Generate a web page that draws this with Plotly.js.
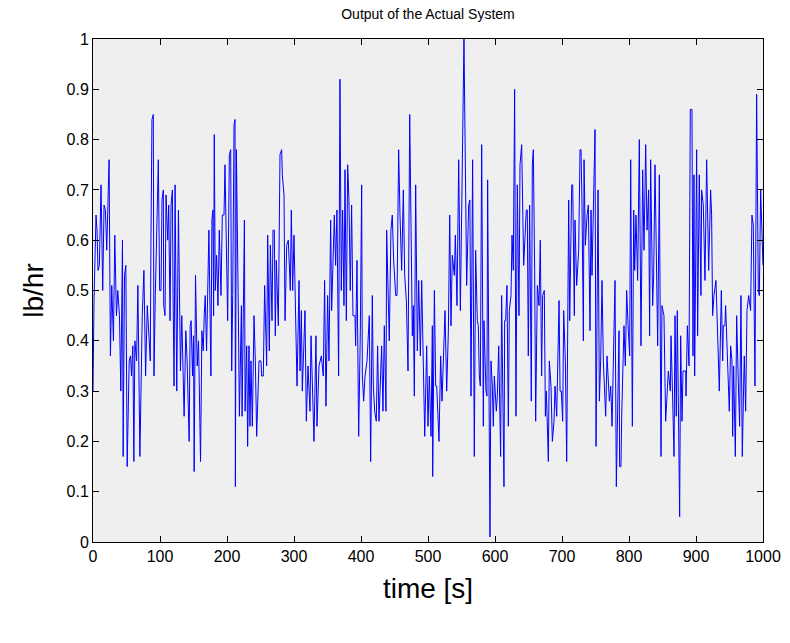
<!DOCTYPE html>
<html>
<head>
<meta charset="utf-8">
<script src="https://cdn.plot.ly/plotly-3.0.1.min.js"></script>
<style>html,body{margin:0;padding:0;background:#fff;}#chart{width:790px;height:643px;}</style>
</head>
<body>
<div id="chart"></div>
<script>
// [time (s), output (lb/hr)], in segments
const seg1 = [[0,0.30],[1.5,0.48],[4.5,0.65],[6,0.62],[7.5,0.54],[9.5,0.55],[12,0.71],[14.5,0.50],[16.5,0.67],[18.5,0.66],[20.5,0.58],[24,0.76],[26,0.37],[28,0.51],[30.5,0.40],[32.5,0.61],[35,0.45],[37,0.50],[39.5,0.45],[41.5,0.30],[44,0.60],[45,0.17],[47,0.53],[49,0.55],[51,0.15],[54,0.36],[56,0.37],[57.5,0.33],[59.5,0.39],[61,0.16],[62.5,0.40],[65,0.36],[67,0.51],[70,0.17],[71.5,0.29],[73.5,0.45],[76,0.54],[78.5,0.33],[81,0.47],[84,0.39],[85.5,0.36],[86.5,0.60],[88,0.84],[90,0.85],[91,0.33],[93,0.49],[97.5,0.76],[99.5,0.50],[101.5,0.50],[103,0.68],[105,0.70],[105.5,0.47],[107.5,0.45],[109,0.69],[111.5,0.60],[113,0.67],[115,0.44]];
const seg2 = [[116.5,0.67],[118.5,0.70],[119.5,0.49],[121,0.31],[122.5,0.71],[125,0.30],[127.5,0.66],[128.5,0.54],[130.5,0.34],[132.5,0.45],[136,0.25],[138.5,0.42],[140.5,0.36],[143.5,0.20],[145,0.43],[146.5,0.44],[148.5,0.33],[150,0.41],[151,0.14],[153,0.53],[155.5,0.35],[157.5,0.40],[160.5,0.16],[162.5,0.42],[164.5,0.38],[166,0.45],[167.5,0.49],[169.5,0.38],[173,0.62],[176,0.33],[177.5,0.64],[179,0.66],[180,0.45],[181,0.81],[182.5,0.50],[184.5,0.57],[186.5,0.47],[188.5,0.62],[191,0.49],[193,0.65],[195.5,0.65],[197,0.75],[201,0.44],[203.5,0.77],[205.5,0.78],[207,0.34],[208.5,0.49],[210.5,0.83],[212,0.84],[212.5,0.11],[214,0.78],[217,0.45],[218.5,0.25],[221.5,0.47],[222.5,0.25],[226,0.64]];
const seg3 = [[227,0.26],[229.4,0.39],[230.8,0.19],[232.8,0.39],[234.3,0.23],[235.8,0.36],[237.8,0.23],[240.3,0.45],[242.3,0.36],[244.3,0.21],[247.8,0.36],[250.7,0.36],[251.7,0.33],[254.2,0.33],[256.2,0.51],[259.2,0.35],[260.7,0.61],[263.2,0.38],[264.7,0.59],[267.2,0.44],[268.7,0.62],[270.6,0.62],[272.1,0.41],[273.6,0.56],[276.6,0.43],[279.1,0.77],[281.6,0.78],[282.6,0.73],[285.1,0.69],[286.6,0.44],[289.1,0.59],[291.5,0.60],[294.5,0.50],[296,0.66],[298,0.50],[300,0.61],[304.5,0.31],[307.5,0.52],[309,0.34],[311,0.46],[312.4,0.30],[316.4,0.46],[318.4,0.24],[320.9,0.35],[323.9,0.26],[325.4,0.41],[326.9,0.33],[329.8,0.20],[332.8,0.41],[334.3,0.23],[337.3,0.35]];
const seg4 = [[340.8,0.37],[343.7,0.33],[345.7,0.52],[347.7,0.27],[350.2,0.49],[352.2,0.36],[354.7,0.64],[356.2,0.46],[358.2,0.56],[360.2,0.65],[362.1,0.55],[364.1,0.66],[366.6,0.33],[368.6,0.92],[370.6,0.50],[372.6,0.66],[374.6,0.47],[376.1,0.74],[378.1,0.44],[380.1,0.75],[382,0.68],[384,0.50],[386,0.67],[388,0.45],[391,0.45],[392,0.39],[394,0.56],[396.5,0.21],[399,0.42],[401,0.71],[402,0.33],[404,0.28],[406,0.33],[409,0.36],[412.4,0.45],[414.4,0.16],[416.9,0.49],[418.4,0.31],[420.4,0.26],[422.8,0.24],[424.8,0.39],[426.8,0.24],[430.8,0.39],[432.8,0.26],[434.8,0.43],[437.3,0.26],[438.3,0.62],[442.2,0.40],[444.7,0.62],[446.7,0.65],[448.7,0.56]];
const seg5 = [[451.8,0.49],[453.8,0.49],[456.2,0.78],[458.2,0.65],[460.7,0.54],[463.2,0.70],[465.2,0.53],[467.7,0.48],[470.2,0.34],[472.7,0.85],[474.6,0.61],[476.6,0.41],[478.1,0.47],[479.6,0.29],[481.6,0.71],[484.1,0.38],[486.1,0.52],[488.6,0.37],[490.6,0.52],[495.1,0.21],[498,0.39],[500,0.23],[502,0.33],[504.5,0.21],[506.5,0.43],[507,0.13],[509.5,0.50],[511.5,0.31],[513,0.31],[516.4,0.20],[518.9,0.37],[520.9,0.28],[525.4,0.46],[527.9,0.30],[530.4,0.42],[532.4,0.65],[534.3,0.43],[536.3,0.57],[539.3,0.53],[540.8,0.61],[543.3,0.47],[545.8,0.76],[548.3,0.46],[550.8,0.75],[553.7,1.00],[557.7,0.51],[560.7,0.67]];
const seg6 = [[562.5,0.68],[564.2,0.29],[566.6,0.76],[569.1,0.17],[571.1,0.58],[573.6,0.44],[575.1,0.43],[576.6,0.33],[578.1,0.31],[580.1,0.79],[582.6,0.23],[583.6,0.44],[586.5,0.30],[588,0.29],[589,0.72],[592.5,0.01],[594,0.36],[596,0.31],[597.5,0.23],[599,0.33],[602,0.26],[603.5,0.29],[605.5,0.39],[608.4,0.17],[609.9,0.49],[613.4,0.11],[614.4,0.44],[615.9,0.44],[617.9,0.51],[619.9,0.23],[621.4,0.46],[623.9,0.49],[625.4,0.61],[627.3,0.54],[629.3,0.90],[631.3,0.25],[633.3,0.71],[635.8,0.45],[637.3,0.75],[639.8,0.79],[642.8,0.55],[644.8,0.61],[646.7,0.66],[648.2,0.66],[649.7,0.37],[651.7,0.67],[654.2,0.28],[655.7,0.75],[657.2,0.78],[659.2,0.54],[660.7,0.24],[663.2,0.51],[665.7,0.47],[667.6,0.60],[669.6,0.33],[671.1,0.49],[673.6,0.50]];
const seg7 = [[675.2,0.25],[676.7,0.30],[679.6,0.16],[681.1,0.36],[683.6,0.31],[685.6,0.20],[688.1,0.24],[689.6,0.31],[692.1,0.25],[695.6,0.48],[697.1,0.30],[699,0.30],[701,0.24],[702.5,0.46],[705,0.36],[707,0.16],[710,0.68],[711.5,0.44],[714.5,0.71],[716,0.71],[718.4,0.45],[719.4,0.64],[721.9,0.51],[724.9,0.58],[726.9,0.78],[728.4,0.78],[729.9,0.67],[731.9,0.40],[732.9,0.76],[734.9,0.59],[737.4,0.65],[739.3,0.67],[741.8,0.42],[743.3,0.66],[744.8,0.53],[747.3,0.74],[749.3,0.82],[750.8,0.19],[753.8,0.70],[755.8,0.28],[757.7,0.36],[759.7,0.52],[761.7,0.36],[765.2,0.25],[767.2,0.37],[770.7,0.28],[772.7,0.31],[774.7,0.23],[779.1,0.52],[781.1,0.11],[785.1,0.42]];
const seg8 = [[786,0.15],[788,0.15],[789.1,0.25],[791,0.36],[792.5,0.43],[794.5,0.35],[796.5,0.50],[799,0.42],[801,0.37],[802.5,0.76],[805,0.23],[807,0.66],[808.5,0.54],[810.4,0.65],[812.9,0.52],[815.4,0.80],[817.9,0.39],[820.4,0.74],[822.4,0.58],[824.9,0.79],[826.9,0.62],[829.3,0.70],[830.8,0.41],[832.3,0.76],[835.3,0.47],[836.8,0.53],[838.8,0.75],[842.8,0.39],[845.3,0.73],[847.8,0.17],[849.2,0.47],[852.2,0.45],[853.2,0.35],[854.7,0.24],[856.7,0.29],[858.7,0.34],[861.7,0.30],[862.7,0.41],[864.7,0.31],[867.2,0.17],[868.7,0.45],[870.6,0.25],[872.1,0.46],[875.6,0.05],[877.1,0.41],[879.1,0.24],[880.6,0.34],[884.6,0.34],[885.1,0.29],[887.1,0.43],[889.6,0.35],[891.5,0.86],[894,0.86],[895.5,0.37],[897,0.73],[898,0.33]];
const seg9 = [[901,0.78],[902.4,0.41],[904.9,0.73],[907.4,0.49],[908.4,0.70],[910.9,0.67],[913.4,0.52],[915.9,0.76],[918.9,0.54],[921.8,0.70],[923.3,0.65],[924.8,0.45],[926.8,0.49],[929.8,0.52],[932.8,0.39],[934.8,0.30],[937.8,0.50],[939.8,0.36],[940.8,0.43],[943.2,0.43],[944.2,0.47],[947.2,0.36],[949.7,0.26],[951.7,0.39],[953.7,0.36],[954.7,0.21],[956.2,0.35],[958.7,0.17],[960.7,0.45],[963.1,0.32],[965.1,0.23],[967.1,0.49],[969.1,0.17],[971.1,0.31],[972.1,0.37],[974.1,0.26],[976.1,0.46],[978.6,0.49],[981.5,0.46],[983.5,0.65],[985.5,0.63],[988,0.31],[990.5,0.89],[993,0.50],[994.5,0.49],[996.5,0.70],[998.5,0.60],[1000,0.55]];

const xTicks = [0,100,200,300,400,500,600,700,800,900,1000];
const yTicks = [0,0.1,0.2,0.3,0.4,0.5,0.6,0.7,0.8,0.9,1];

const all = [].concat(seg1,seg2,seg3,seg4,seg5,seg6,seg7,seg8,seg9);
const t = all.map(p => p[0]);
const v = all.map(p => p[1]);

const font = "Liberation Sans, Arial, sans-serif";
const axisCommon = {
  showgrid: false, zeroline: false,
  showline: true, linecolor: '#000', linewidth: 1, mirror: 'ticks',
  ticks: 'inside', ticklen: 6, tickcolor: '#000', tickwidth: 1,
  tickfont: {family: font, size: 16, color: '#000'}
};

Plotly.newPlot('chart', [{
  x: t, y: v, type: 'scatter', mode: 'lines',
  line: {color: '#0000ff', width: 1}, hoverinfo: 'skip'
}], {
  width: 790, height: 643,
  margin: {l: 93, r: 27, t: 39, b: 101},
  paper_bgcolor: '#ffffff', plot_bgcolor: '#efefef',
  showlegend: false,
  title: {text: 'Output of the Actual System', font: {family: font, size: 14, color: '#000'},
          x: 0.5, xref: 'paper', y: 0.985, yref: 'container', yanchor: 'top'},
  xaxis: Object.assign({}, axisCommon, {
    range: [0, 1000], tickvals: xTicks, ticktext: xTicks.map(String),
    title: {text: 'time [s]', font: {family: font, size: 28, color: '#000'}, standoff: 14}
  }),
  yaxis: Object.assign({}, axisCommon, {
    range: [0, 1], tickvals: yTicks, ticktext: yTicks.map(String),
    title: {text: 'lb/hr', font: {family: font, size: 28, color: '#000'}, standoff: 14}
  })
}, {staticPlot: true, displayModeBar: false});
</script>
</body>
</html>
